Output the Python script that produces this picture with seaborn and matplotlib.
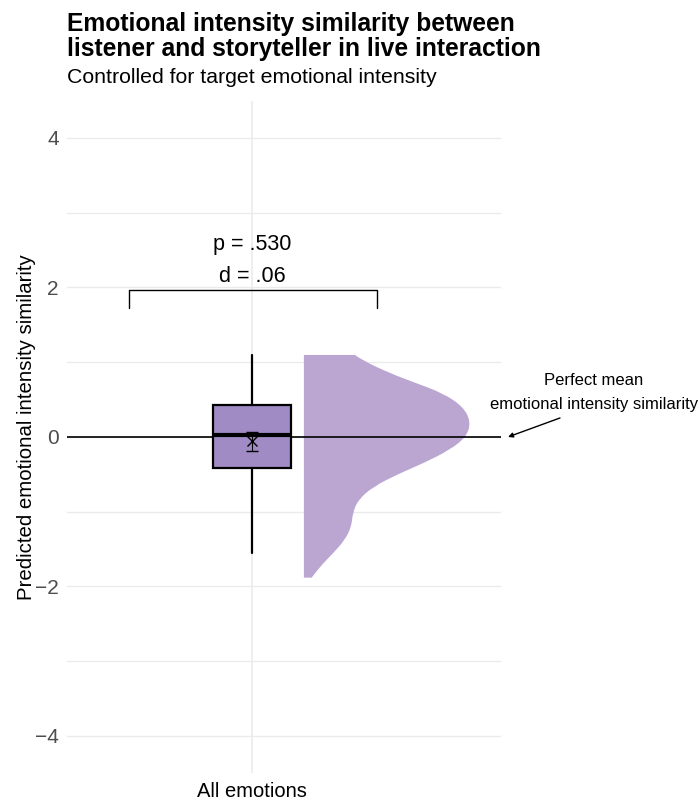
import numpy as np
import matplotlib
matplotlib.use("Agg")
import matplotlib.pyplot as plt
from matplotlib.path import Path
from matplotlib.patches import PathPatch
import seaborn as sns

# ---- data ----
category = "All emotions"
box_q1, box_median, box_q3 = -0.415, 0.027, 0.428
whisker_low, whisker_high = -1.55, 1.097
mean_value = -0.06
mean_ci = 0.13
p_label = "p = .530"
d_label = "d = .06"

# half-violin density profile: predicted value and density width
density_y = [1.097, 1.030, 0.852, 0.718, 0.584, 0.406, 0.205, 0.004, -0.174,
             -0.352, -0.486, -0.664, -0.843, -1.021, -1.200, -1.378, -1.556,
             -1.735, -1.882]
density_w = [0.131, 0.148, 0.221, 0.289, 0.357, 0.408, 0.428, 0.417, 0.374,
             0.306, 0.246, 0.178, 0.139, 0.125, 0.122, 0.105, 0.075,
             0.041, 0.020]

yticks = [-4, -2, 0, 2, 4]

sns.set_theme(style="white")
plt.rcParams["font.family"] = ["Liberation Sans", "DejaVu Sans"]
plt.rcParams["text.color"] = "black"
plt.rcParams["axes.labelcolor"] = "black"

fig = plt.figure(figsize=(6.99, 8.0), dpi=100)
ax = fig.add_axes([67 / 699, 0.0333, (500.5 - 67) / 699, 0.841])

pos = 1.0
ax.set_xlim(pos - 185 / 390, pos + 248.5 / 390)
ax.set_ylim(-4.5, 4.5)

# grid
grid_col = "#EBEBEB"
for yv in np.arange(-4, 5, 1):
    ax.axhline(yv, color=grid_col, lw=1.0, zorder=0)
ax.axvline(pos, color=grid_col, lw=1.2, zorder=0)

# reference line at perfect similarity
ax.axhline(0, color="black", lw=1.2, zorder=3)

# half violin, outline drawn as quadratic Bezier segments through the profile
offset = 0.133
base = pos + offset
edge = np.column_stack([base + np.array(density_w), density_y])
verts = [(base, density_y[0]), tuple(edge[0])]
codes = [Path.MOVETO, Path.LINETO]
for i in range(1, len(edge) - 1):
    mid = (edge[i] + edge[i + 1]) / 2
    if i == len(edge) - 2:
        mid = edge[i + 1]
    verts += [tuple(edge[i]), tuple(mid)]
    codes += [Path.CURVE3, Path.CURVE3]
verts += [(base, density_y[-1]), (base, density_y[0])]
codes += [Path.LINETO, Path.CLOSEPOLY]
ax.add_patch(PathPatch(Path(verts, codes), facecolor="#BBA6D2", lw=0, zorder=2))

# box plot from summary statistics
stats = [dict(med=box_median, q1=box_q1, q3=box_q3,
              whislo=whisker_low, whishi=whisker_high, fliers=[], label=category)]
ax.bxp(stats, positions=[pos], widths=0.2, patch_artist=True, showcaps=False,
       boxprops=dict(facecolor="#A08BC4", edgecolor="black", lw=1.6),
       medianprops=dict(color="black", lw=3.0),
       whiskerprops=dict(color="black", lw=1.6), zorder=4)

# mean with interval
ax.errorbar([pos], [mean_value], yerr=[mean_ci], fmt="x", color="black",
            ms=7, mew=1.0, elinewidth=0.8, capsize=4, capthick=0.8, zorder=5)

# significance bracket
x_left, x_right = pos - 123 / 390, pos + 125 / 390
y_top, y_tip = 1.967, 1.73
ax.plot([x_left, x_left, x_right, x_right], [y_tip, y_top, y_top, y_tip],
        color="black", lw=1.0, zorder=3)
ax.text(pos, 2.58, p_label, ha="center", va="center", fontsize=15.5)
ax.text(pos, 2.15, d_label, ha="center", va="center", fontsize=15.5)

# annotation of the reference line
ax.annotate("", xy=(pos + 256 / 390, 0.0), xytext=(pos + 308 / 390, 0.254),
            arrowprops=dict(arrowstyle="-|>", color="black", lw=1.0,
                            mutation_scale=7, shrinkA=0, shrinkB=0),
            annotation_clip=False)
ax.text(pos + 342 / 390, 0.749, "Perfect mean", ha="center", va="center",
        fontsize=12, clip_on=False)
ax.text(pos + 342 / 390, 0.44, "emotional intensity similarity", ha="center",
        va="center", fontsize=12, clip_on=False)

# axes styling
ax.set_yticks(yticks)
ax.set_yticklabels(["\u2212" + str(abs(v)) if v < 0 else str(v) for v in yticks])
ax.set_xticks([pos])
ax.set_xticklabels([category])
ax.tick_params(axis="y", labelsize=15, labelcolor="#4D4D4D", length=0, pad=6)
ax.tick_params(axis="x", labelsize=14.5, labelcolor="black", length=0, pad=6)
ax.set_ylabel("Predicted emotional intensity similarity", fontsize=14.7)
ax.yaxis.set_label_coords(-0.072, 0.514)
for s in ax.spines.values():
    s.set_visible(False)
ax.set_facecolor("white")

fig.text(67 / 699, 1 - 31 / 800, "Emotional intensity similarity between",
         fontsize=17.7, fontweight="bold", va="baseline", ha="left")
fig.text(67 / 699, 1 - 56 / 800, "listener and storyteller in live interaction",
         fontsize=17.7, fontweight="bold", va="baseline", ha="left")
fig.text(67 / 699, 1 - 83 / 800, "Controlled for target emotional intensity",
         fontsize=15.3, va="baseline", ha="left")

fig.savefig("out.png", dpi=100, facecolor="white")
